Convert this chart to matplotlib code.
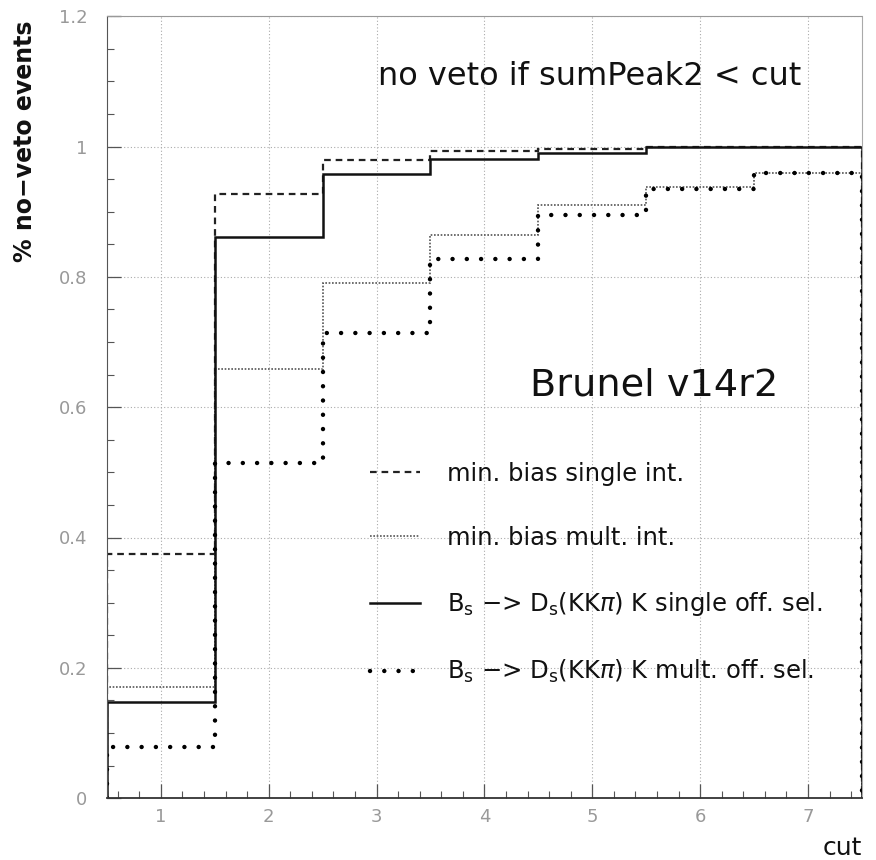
import matplotlib
matplotlib.use('Agg')
import matplotlib.pyplot as plt
from matplotlib.ticker import MultipleLocator
from matplotlib.lines import Line2D

# Bin edges for the cut value (bins centred on 1..7)
edges = [0.5, 1.5, 2.5, 3.5, 4.5, 5.5, 6.5, 7.5]

# Fraction of no-veto events per cut
minbias_single = [0.375, 0.927, 0.980, 0.994, 0.997, 1.000, 1.000]
minbias_mult = [0.170, 0.659, 0.790, 0.865, 0.910, 0.938, 0.960]
bs_single = [0.147, 0.861, 0.958, 0.981, 0.990, 0.999, 0.999]
bs_mult = [0.078, 0.515, 0.714, 0.828, 0.895, 0.935, 0.960]

labels = ['min. bias single int.',
          'min. bias mult. int.',
          r'B$_\mathrm{s}$ $-$> D$_\mathrm{s}$(KK$\pi$) K single off. sel.',
          r'B$_\mathrm{s}$ $-$> D$_\mathrm{s}$(KK$\pi$) K mult. off. sel.']

fig = plt.figure(figsize=(8.76, 8.6), dpi=100)
ax = fig.add_axes([0.122, 0.072, 0.862, 0.909])

# Styles
dashed = dict(color='#222222', linewidth=1.6, linestyle=(0, (3, 2.2)))
dotted = dict(color='#555555', linewidth=1.2, linestyle=(0, (1, 1)))
solid = dict(color='#111111', linewidth=1.8, linestyle='-')
bigdot = dict(color='black', linewidth=3.2, linestyle=(0, (0.01, 3.2)))

ax.stairs(minbias_single, edges, baseline=0, fill=False, **dashed)
ax.stairs(minbias_mult, edges, baseline=0, fill=False, **dotted)
ax.stairs(bs_single, edges, baseline=0, fill=False, **solid)
ax.stairs(bs_mult, edges, baseline=0, fill=False, capstyle='round', **bigdot)

ax.set_xlim(0.5, 7.5)
ax.set_ylim(0, 1.2)

# Ticks
ax.xaxis.set_major_locator(MultipleLocator(1))
ax.xaxis.set_minor_locator(MultipleLocator(0.2))
ax.yaxis.set_major_locator(MultipleLocator(0.2))
ax.yaxis.set_minor_locator(MultipleLocator(0.05))
ax.tick_params(which='both', direction='in', top=False, right=False,
               colors='#555555', labelcolor='#999999', labelsize=13)
ax.tick_params(which='major', length=10, width=0.9)
ax.tick_params(which='minor', length=5, width=0.8)
ax.tick_params(axis='y', pad=14)
ax.tick_params(axis='x', pad=7)
ax.set_yticks([0, 0.2, 0.4, 0.6, 0.8, 1.0, 1.2])
ax.set_yticklabels(['0', '0.2', '0.4', '0.6', '0.8', '1', '1.2'])

ax.grid(True, which='major', color='#aaaaaa', linestyle=(0, (1, 2)), linewidth=0.8)
ax.set_axisbelow(True)

# Frame
ax.spines['left'].set_color('#555555')
ax.spines['bottom'].set_color('#333333')
ax.spines['bottom'].set_linewidth(1.3)
ax.spines['top'].set_color('#999999')
ax.spines['top'].set_linestyle((0, (1, 1)))
ax.spines['right'].set_color('#aaaaaa')
ax.spines['right'].set_linewidth(0.8)

# Labels
fig.text(0.029, 0.836, '% no\u2212veto events', rotation=90, ha='center',
         va='center', fontsize=17, fontweight='bold', color='#111111')
ax.text(1.0, -0.064, 'cut', transform=ax.transAxes, ha='right', va='center',
        fontsize=18, color='#111111')

ax.text(3.01, 1.108, 'no veto if sumPeak2 < cut', fontsize=23,
        va='center', ha='left', color='#111111')
ax.text(4.42, 0.633, 'Brunel v14r2', fontsize=27.5,
        va='center', ha='left', color='#111111')

# Legend
handles = [Line2D([], [], **dashed),
           Line2D([], [], **dotted),
           Line2D([], [], **solid),
           Line2D([], [], dash_capstyle='round', **bigdot)]
leg = ax.legend(handles, labels, loc='upper left', bbox_to_anchor=(0.323, 0.455),
                frameon=False, fontsize=17.5, handlelength=2.05, handletextpad=1.1,
                labelspacing=1.65, borderpad=0.3)
for t in leg.get_texts():
    t.set_color('#111111')

plt.savefig('out.png', dpi=100)
